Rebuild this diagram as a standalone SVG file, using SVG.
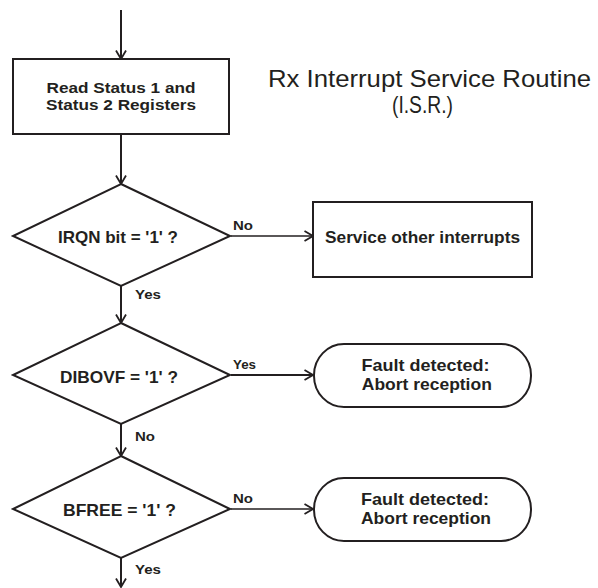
<svg xmlns="http://www.w3.org/2000/svg" width="598" height="588" viewBox="0 0 598 588">
<style>
.shape{fill:#fff;stroke:#231f20;stroke-width:2}
.lbl{font-family:"Liberation Sans",Arial,sans-serif;font-weight:bold;fill:#231f20}
.t{font-size:16.5px;text-anchor:middle}
.t2{font-size:15px;text-anchor:middle}
.s{font-size:12.5px}
.title{font-family:"Liberation Sans",Arial,sans-serif;font-size:24px;fill:#231f20;text-anchor:middle}
.c{fill:none;stroke:#231f20;stroke-width:2}
.thin{stroke-width:1.3}
</style>
<defs>
<marker id="arr" viewBox="0 0 10 12" refX="9.5" refY="6" markerWidth="10" markerHeight="12" markerUnits="userSpaceOnUse" orient="auto">
<polyline points="1,1 9.5,6 1,11" fill="none" stroke="#231f20" stroke-width="1.8"/>
</marker>
</defs>
<rect width="598" height="588" fill="#fff"/>
<g id="title">
<text class="title" x="429.5" y="86.5" textLength="323" lengthAdjust="spacingAndGlyphs">Rx Interrupt Service Routine</text>
<text class="title" x="422.5" y="113" textLength="61" lengthAdjust="spacingAndGlyphs">(I.S.R.)</text>
</g>
<g id="connectors">
<line class="c" x1="121" y1="10" x2="121" y2="59" marker-end="url(#arr)"/>
<line class="c" x1="121" y1="134" x2="121" y2="184" marker-end="url(#arr)"/>
<line class="c" x1="121" y1="286" x2="121" y2="323" marker-end="url(#arr)"/>
<line class="c" x1="121" y1="424" x2="121" y2="456" marker-end="url(#arr)"/>
<line class="c" x1="121" y1="558" x2="121" y2="587" marker-end="url(#arr)"/>
<line class="c thin" x1="231" y1="236" x2="313" y2="236" marker-end="url(#arr)"/>
<line class="c" x1="231" y1="375" x2="313" y2="375" marker-end="url(#arr)"/>
<line class="c thin" x1="231" y1="509" x2="313" y2="509" marker-end="url(#arr)"/>
<text class="lbl s" x="233" y="230" textLength="20" lengthAdjust="spacingAndGlyphs">No</text>
<text class="lbl s" x="135" y="298.5" textLength="26" lengthAdjust="spacingAndGlyphs">Yes</text>
<text class="lbl s" x="233" y="369" textLength="23" lengthAdjust="spacingAndGlyphs">Yes</text>
<text class="lbl s" x="135" y="441" textLength="20" lengthAdjust="spacingAndGlyphs">No</text>
<text class="lbl s" x="233" y="502.5" textLength="20" lengthAdjust="spacingAndGlyphs">No</text>
<text class="lbl s" x="135" y="573.5" textLength="26" lengthAdjust="spacingAndGlyphs">Yes</text>
</g>
<g id="read">
<rect class="shape" x="13" y="59" width="216" height="75"/>
<text class="lbl t2" x="121" y="92.8" textLength="149" lengthAdjust="spacingAndGlyphs">Read Status 1 and</text>
<text class="lbl t2" x="121" y="109.5" textLength="150" lengthAdjust="spacingAndGlyphs">Status 2 Registers</text>
</g>
<g id="irqn">
<polygon class="shape" points="121,184 230,236 121,286 13,236"/>
<text class="lbl t" x="118" y="243.3" textLength="120" lengthAdjust="spacingAndGlyphs">IRQN bit = '1' ?</text>
</g>
<g id="service">
<rect class="shape" x="313" y="202" width="219" height="75"/>
<text class="lbl t" x="422.5" y="242.7" textLength="195" lengthAdjust="spacingAndGlyphs">Service other interrupts</text>
</g>
<g id="dibovf">
<polygon class="shape" points="121,323 230,375 121,424 13,375"/>
<text class="lbl t" x="119" y="382.7" textLength="118" lengthAdjust="spacingAndGlyphs">DIBOVF = '1' ?</text>
</g>
<g id="fault1">
<rect class="shape" x="314" y="344" width="217" height="63" rx="30" ry="31"/>
<text class="lbl t" x="425.5" y="371" textLength="128" lengthAdjust="spacingAndGlyphs">Fault detected:</text>
<text class="lbl t" x="426.8" y="390" textLength="130" lengthAdjust="spacingAndGlyphs">Abort reception</text>
</g>
<g id="bfree">
<polygon class="shape" points="121,456 230,509 121,558 13,509"/>
<text class="lbl t" x="119.5" y="516" textLength="113" lengthAdjust="spacingAndGlyphs">BFREE = '1' ?</text>
</g>
<g id="fault2">
<rect class="shape" x="314" y="478" width="217" height="63" rx="30" ry="31"/>
<text class="lbl t" x="425" y="505" textLength="128" lengthAdjust="spacingAndGlyphs">Fault detected:</text>
<text class="lbl t" x="426" y="524" textLength="130" lengthAdjust="spacingAndGlyphs">Abort reception</text>
</g>
</svg>
